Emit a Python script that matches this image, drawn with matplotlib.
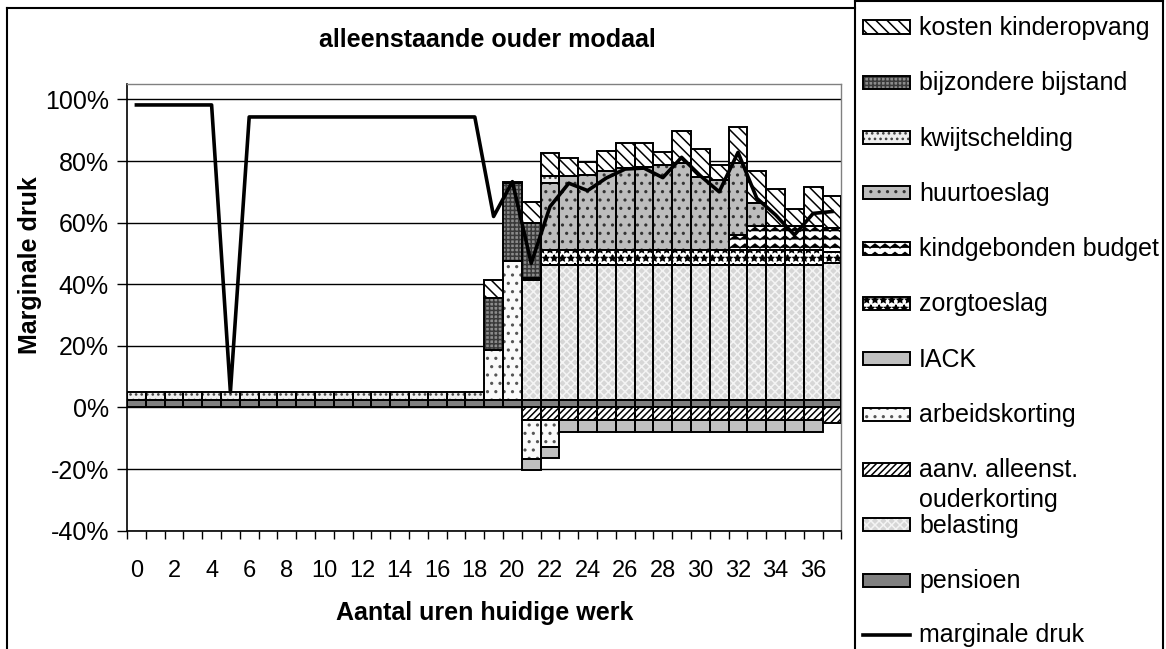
import matplotlib
matplotlib.use('Agg')
import matplotlib.pyplot as plt
import matplotlib.hatch as mhatch
from matplotlib.path import Path
from matplotlib.patches import Rectangle
from matplotlib.lines import Line2D
import numpy as np

# ---------------- data (percent) ----------------
hours = list(range(38))
xtick_labels = [str(h) for h in range(0, 37, 2)]
yticks = [-40, -20, 0, 20, 40, 60, 80, 100]

pensioen = [2.5, 2.5, 2.5, 2.5, 2.5, 2.5, 2.5, 2.5, 2.5, 2.5, 2.5, 2.5, 2.5, 2.5, 2.5, 2.5, 2.5, 2.5, 2.5,
            2.5, 2.5, 2.5, 2.5, 2.5, 2.5, 2.5, 2.5, 2.5, 2.5, 2.5, 2.5, 2.5, 2.5, 2.5, 2.5, 2.5, 2.5, 2.5]
belasting = [0, 0, 0, 0, 0, 0, 0, 0, 0, 0, 0, 0, 0, 0, 0, 0, 0, 0, 0,
             0, 0, 38.9, 43.8, 43.8, 43.8, 43.8, 43.8, 43.8, 43.8, 43.8, 43.8, 43.8, 43.8, 43.8, 43.8, 43.8, 43.8, 44.4]
aanv_ouderkorting = [0, 0, 0, 0, 0, 0, 0, 0, 0, 0, 0, 0, 0, 0, 0, 0, 0, 0, 0,
                     0, 0, -4, -4, -4, -4, -4, -4, -4, -4, -4, -4, -4, -4, -4, -4, -4, -4, -5]
arbeidskorting = [0, 0, 0, 0, 0, 0, 0, 0, 0, 0, 0, 0, 0, 0, 0, 0, 0, 0, 0,
                  16.2, 45.0, -12.7, -8.7, 0, 0, 0, 0, 0, 0, 0, 0, 0, 0, 0, 0, 0, 0, 0]
iack = [0, 0, 0, 0, 0, 0, 0, 0, 0, 0, 0, 0, 0, 0, 0, 0, 0, 0, 0,
        0, 0, -3.6, -3.7, -4, -4, -4, -4, -4, -4, -4, -4, -4, -4, -4, -4, -4, -4, 0]
zorgtoeslag = [0, 0, 0, 0, 0, 0, 0, 0, 0, 0, 0, 0, 0, 0, 0, 0, 0, 0, 0,
               0, 0, 0.5, 4.8, 4.8, 4.8, 4.8, 4.8, 4.8, 4.8, 4.8, 4.8, 4.8, 4.8, 4.8, 4.8, 4.8, 4.8, 3.6]
kindgebonden = [0, 0, 0, 0, 0, 0, 0, 0, 0, 0, 0, 0, 0, 0, 0, 0, 0, 0, 0,
                0, 0, 0, 0, 0, 0, 0, 0, 0, 0, 0, 0, 0, 4.9, 7.8, 7.8, 7.8, 7.8, 7.7]
huurtoeslag = [0, 0, 0, 0, 0, 0, 0, 0, 0, 0, 0, 0, 0, 0, 0, 0, 0, 0, 0,
               0, 0, 0, 21.7, 24.1, 24.4, 25.5, 26.6, 27.1, 27.6, 28.2, 23.6, 22.8, 23.3, 7.4, 0, 0, 0, 0]
kwijtschelding = [2.6, 2.6, 2.6, 2.6, 2.6, 2.6, 2.6, 2.6, 2.6, 2.6, 2.6, 2.6, 2.6, 2.6, 2.6, 2.6, 2.6, 2.6, 2.6,
                  0, 0, 0, 2.4, 0, 0, 0, 0, 0, 0, 0, 0, 0, 0, 0, 0, 0, 0, 0]
bijzondere_bijstand = [0, 0, 0, 0, 0, 0, 0, 0, 0, 0, 0, 0, 0, 0, 0, 0, 0, 0, 0,
                       16.8, 25.3, 17.9, 0, 0, 0, 0, 0, 0, 0, 0, 0, 0, 0, 0, 0, 0, 0, 0]
kosten_kinderopvang = [0, 0, 0, 0, 0, 0, 0, 0, 0, 0, 0, 0, 0, 0, 0, 0, 0, 0, 0,
                       5.9, 0.5, 7.0, 7.3, 5.7, 4.3, 6.7, 8.3, 7.8, 4.3, 10.5, 9.1, 4.8, 11.7, 10.5, 11.9, 5.4, 12.6, 10.5]
marginale_druk = [98.2, 98.2, 98.2, 98.2, 98.2, 5.0, 94.3, 94.3, 94.3, 94.3, 94.3, 94.3, 94.3, 94.3, 94.3, 94.3,
                  94.3, 94.3, 94.3, 62.0, 73.3, 46.8, 65.2, 72.8, 70.4, 74.5, 77.4, 77.7, 74.6, 81.2, 75.2, 70.0,
                  82.8, 67.9, 62.5, 56.0, 63.0, 63.6]

# series in stacking order (bottom -> top)
series = [
    ('pensioen', pensioen),
    ('belasting', belasting),
    ('aanv. alleenst.\nouderkorting', aanv_ouderkorting),
    ('arbeidskorting', arbeidskorting),
    ('IACK', iack),
    ('zorgtoeslag', zorgtoeslag),
    ('kindgebonden budget', kindgebonden),
    ('huurtoeslag', huurtoeslag),
    ('kwijtschelding', kwijtschelding),
    ('bijzondere bijstand', bijzondere_bijstand),
    ('kosten kinderopvang', kosten_kinderopvang),
]

# --- wave ('-') hatch: zigzag lines instead of straight horizontal lines ---
wave_ok = False
try:
    class _WaveHorizontalHatch(mhatch.HatchPatternBase):
        TEETH = 10

        def __init__(self, hatch, density):
            self.n_wave = int(hatch.count('-') * density)
            self.n_plus = int(hatch.count('+') * density)
            self.num_vertices = self.n_wave * (2 * self.TEETH + 1) + self.n_plus * 2

        def set_vertices_and_codes(self, vertices, codes):
            c = 0
            if self.n_wave:
                step = 1.0 / self.n_wave
                amp = 0.45 * step
                k = 2 * self.TEETH + 1
                for i in range(self.n_wave):
                    y0 = i * step + step * 0.25
                    for j in range(k):
                        vertices[c + j, 0] = j / (2.0 * self.TEETH)
                        vertices[c + j, 1] = y0 + (amp if j % 2 else 0.0)
                        codes[c + j] = Path.LINETO
                    codes[c] = Path.MOVETO
                    c += k
            if self.n_plus:
                steps, stepsize = np.linspace(0.0, 1.0, self.n_plus, False, retstep=True)
                steps += stepsize / 2.
                vertices[c::2, 0][:self.n_plus] = 0.0
                for i, s in enumerate(steps):
                    vertices[c + 2 * i] = (0.0, s)
                    vertices[c + 2 * i + 1] = (1.0, s)
                    codes[c + 2 * i] = Path.MOVETO
                    codes[c + 2 * i + 1] = Path.LINETO

    _types = mhatch._hatch_types
    for _i, _t in enumerate(_types):
        if _t is mhatch.HorizontalHatch:
            _types[_i] = _WaveHorizontalHatch
            wave_ok = True
except Exception:
    wave_ok = False

styles = {
    'pensioen': dict(face='#808080', hatch=None, hc='#808080'),
    'belasting': dict(face='#d6d6d6', hatch='xxxx', hc='#f4f4f4'),
    'aanv. alleenst.\nouderkorting': dict(face='white', hatch='/////', hc='black'),
    'arbeidskorting': dict(face='#fafafa', hatch='..', hc='#555555'),
    'IACK': dict(face='#c0c0c0', hatch=None, hc='#c0c0c0'),
    'zorgtoeslag': dict(face='white', hatch='**', hc='black'),
    'kindgebonden budget': dict(face='white', hatch='--' if wave_ok else 'xx', hc='black'),
    'huurtoeslag': dict(face='#bdbdbd', hatch='..', hc='#333333'),
    'kwijtschelding': dict(face='#eeeeee', hatch='...', hc='#444444'),
    'bijzondere bijstand': dict(face='#8c8c8c', hatch='++++', hc='#3a3a3a'),
    'kosten kinderopvang': dict(face='white', hatch='\\\\\\', hc='black'),
}

plt.rcParams['font.family'] = ['Liberation Sans', 'DejaVu Sans']
plt.rcParams['hatch.linewidth'] = 1.1

W, H = 1166, 649
fig = plt.figure(figsize=(W / 100, H / 100), dpi=100)


def fx(x):
    return x / W


def fy(y):
    return 1 - y / H


ax = fig.add_axes([fx(127), fy(530.7), fx(841.4) - fx(127), fy(84) - fy(530.7)])

x = np.array(hours)
pos_b = np.zeros(len(x))
neg_b = np.zeros(len(x))
for name, vals in series:
    v = np.array(vals, dtype=float)
    st = styles[name]
    bottom = np.where(v >= 0, pos_b, neg_b)
    m = v != 0
    ax.bar(x[m], v[m], width=1.0, bottom=bottom[m], color=st['face'],
           edgecolor=st['hc'], linewidth=0, hatch=st['hatch'], zorder=2)
    ax.bar(x[m], v[m], width=1.0, bottom=bottom[m], fill=False,
           edgecolor='black', linewidth=1.4, zorder=3)
    pos_b = pos_b + np.where(v > 0, v, 0)
    neg_b = neg_b + np.where(v < 0, v, 0)

ax.plot(x, marginale_druk, color='black', lw=2.6, zorder=5, solid_joinstyle='round')

ax.set_xlim(-0.5, 37.5)
ax.set_ylim(-40, 105)
ax.set_yticks(yticks)
ax.set_yticklabels([f'{t}%' for t in yticks])
ax.set_axisbelow(True)
ax.yaxis.grid(True, color='black', lw=1.0)
ax.tick_params(axis='y', direction='out', length=7, width=1.0, labelsize=18, pad=6)

ax.set_xticks(np.arange(-0.5, 38, 1.0))
ax.set_xticklabels([])
ax.tick_params(axis='x', which='major', direction='out', length=6, width=1.0)
ax.set_xticks(list(range(0, 37, 2)), minor=True)
ax.set_xticklabels(xtick_labels, minor=True, fontsize=17,
                   fontfamily=['Liberation Sans Narrow', 'Liberation Sans'])
ax.tick_params(axis='x', which='minor', length=0, pad=21)

for s in ['top', 'right']:
    ax.spines[s].set_color('#808080')
    ax.spines[s].set_linewidth(1.0)
for s in ['left', 'bottom']:
    ax.spines[s].set_color('black')
    ax.spines[s].set_linewidth(1.2)

fig.text(fx(487), fy(40), 'alleenstaande ouder modaal', ha='center', va='center',
         fontsize=18, fontweight='bold')
fig.text(fx(30), fy(265), 'Marginale druk', ha='center', va='center', rotation=90,
         fontsize=18, fontweight='bold')
fig.text(fx(485), fy(613), 'Aantal uren huidige werk', ha='center', va='center',
         fontsize=18, fontweight='bold')

# outer frame and legend box
for (x0, y0, x1, y1) in [(7, 8, 855, 8), (7, 8, 7, 649), (855, 0.5, 855, 649),
                         (855, 0.5, 1163, 0.5), (1163, 0.5, 1163, 649)]:
    fig.add_artist(Line2D([fx(x0), fx(x1)], [fy(y0), fy(y1)], color='black', lw=1.5,
                          transform=fig.transFigure))

# legend entries (top -> bottom = reverse stacking order) + line
legend_items = [name for name, _ in series][::-1]
STEP = 55.3
for i, name in enumerate(legend_items):
    yc = 27 + STEP * i
    st = styles[name]
    fig.add_artist(Rectangle((fx(863), fy(yc + 6.5)), 47 / W, 13 / H, transform=fig.transFigure,
                             facecolor=st['face'], edgecolor=st['hc'], linewidth=0, hatch=st['hatch']))
    fig.add_artist(Rectangle((fx(863), fy(yc + 6.5)), 47 / W, 13 / H, transform=fig.transFigure,
                             fill=False, edgecolor='black', linewidth=1.4))
    if '\n' in name:
        l1, l2 = name.split('\n')
        fig.text(fx(919), fy(yc + 1), l1, ha='left', va='center', fontsize=18)
        fig.text(fx(919), fy(yc + 31), l2, ha='left', va='center', fontsize=18)
    else:
        fig.text(fx(919), fy(yc + 1), name, ha='left', va='center', fontsize=18)

yc = 27 + STEP * len(legend_items)
fig.add_artist(Line2D([fx(863), fx(910)], [fy(yc), fy(yc)], color='black', lw=2.6,
                      transform=fig.transFigure))
fig.text(fx(919), fy(yc), 'marginale druk', ha='left', va='center', fontsize=18)

fig.savefig('out.png', dpi=100)
